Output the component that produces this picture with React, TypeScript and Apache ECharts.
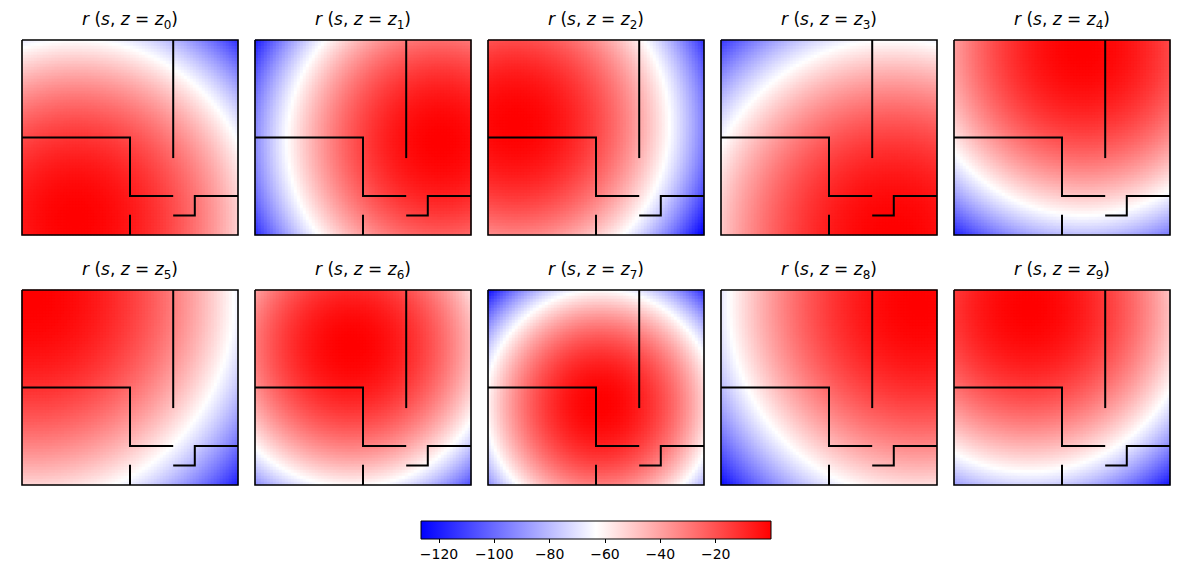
import React, { useEffect, useRef } from 'react';
import * as echarts from 'echarts';

// ---------------- data ----------------
// panel index labels: r(s, z = z_k)
const panelIds = ['0', '1', '2', '3', '4', '5', '6', '7', '8', '9'];
// transmitter position z_k in floor-plan units (x: 0..10 left→right, y: 0..9 top→bottom)
const txX = [2.5, 8.6, 1.3, 8.0, 6.0, 0.5, 4.5, 5.2, 9.2, 3.5];
const txY = [8.3, 4.7, 3.9, 9.0, 0.5, 0.5, 2.6, 5.3, 0.8, 0.9];
// distance at which each map crosses the colour-scale midpoint (white contour)
const whiteRadius = [8.3, 7.1, 7.1, 9.0, 7.6, 9.3, 6.5, 5.3, 8.8, 7.5];
// colour-scale range
const vMin = -126.5;
const vMax = 0;
const colorbarTicks = [-120, -100, -80, -60, -40, -20];
// floor-plan walls (same in every panel)
const walls = [
  [[0, 4.5], [5, 4.5], [5, 7.2], [7, 7.2]],
  [[7, 0], [7, 5.45]],
  [[7, 8.1], [8, 8.1], [8, 7.2], [10, 7.2]],
  [[5, 8.06], [5, 9]],
];
const frame = [[0, 0], [10, 0], [10, 9], [0, 9], [0, 0]];
const xMaxPlan = 10;
const yMaxPlan = 9;

// ---------------- layout ----------------
const NX = 72;
const NY = 65;
const PW = 216;
const PH = 195;
const panelLeft = [22, 255, 488, 721, 954];
const rowTop = [40, 290];

const xCats = Array.from({ length: NX }, (_, i) => String(i));
const yCats = Array.from({ length: NY }, (_, j) => String(j));

function buildMap(k: number) {
  const out: number[][] = [];
  const mid = (vMin + vMax) / 2;
  const R2 = whiteRadius[k] * whiteRadius[k];
  for (let j = 0; j < NY; j++) {
    const Y = ((j + 0.5) * yMaxPlan) / NY;
    for (let i = 0; i < NX; i++) {
      const X = ((i + 0.5) * xMaxPlan) / NX;
      const d2 = (X - txX[k]) ** 2 + (Y - txY[k]) ** 2;
      let v = (mid * d2) / R2;
      v = Math.max(vMin, Math.min(vMax, v));
      out.push([i, j, Math.round(v * 10) / 10]);
    }
  }
  return out;
}

const FONT = "'DejaVu Sans', sans-serif";

export default function App() {
  const ref = useRef<HTMLDivElement>(null);
  useEffect(() => {
    if (!ref.current) return;
    const chart = echarts.init(ref.current, undefined, { renderer: 'svg' });
    const grid: any[] = [];
    const xAxis: any[] = [];
    const yAxis: any[] = [];
    const series: any[] = [];
    const graphic: any[] = [];
    const heatIdx: number[] = [];

    panelIds.forEach((id, k) => {
      const row = k < 5 ? 0 : 1;
      const col = k % 5;
      const left = panelLeft[col];
      const top = rowTop[row];
      grid.push({ left, top, width: PW, height: PH, containLabel: false });
      xAxis.push({ type: 'category', gridIndex: k, data: xCats, show: false });
      xAxis.push({ type: 'value', gridIndex: k, min: 0, max: xMaxPlan, show: false });
      yAxis.push({ type: 'category', gridIndex: k, data: yCats, show: false, inverse: true });
      yAxis.push({ type: 'value', gridIndex: k, min: 0, max: yMaxPlan, show: false, inverse: true });
      heatIdx.push(series.length);
      series.push({
        type: 'heatmap',
        xAxisIndex: 2 * k,
        yAxisIndex: 2 * k,
        data: buildMap(k),
        progressive: 0,
        silent: true,
        emphasis: { disabled: true },
        itemStyle: { borderWidth: 0 },
      });
      series.push({
        type: 'lines',
        coordinateSystem: 'cartesian2d',
        xAxisIndex: 2 * k + 1,
        yAxisIndex: 2 * k + 1,
        polyline: true,
        silent: true,
        z: 5,
        lineStyle: { color: '#000', width: 2, opacity: 1, curveness: 0 },
        data: [
          ...walls.map((c) => ({ coords: c })),
          { coords: frame, lineStyle: { width: 1.6, color: '#000', opacity: 1 } },
        ],
      });
      graphic.push({
        type: 'text',
        x: left + PW / 2,
        y: top - 21,
        silent: true,
        style: {
          text: `{i|r}{n| (}{i|s}{n|, }{i|z}{n| = }{i|z}{s|${id}}{n|)}`,
          align: 'center',
          verticalAlign: 'middle',
          rich: {
            i: { fontFamily: FONT, fontStyle: 'italic', fontSize: 17, fill: '#000', lineHeight: 24 },
            n: { fontFamily: FONT, fontSize: 17, fill: '#000', lineHeight: 24 },
            s: { fontFamily: FONT, fontSize: 12, fill: '#000', lineHeight: 16, verticalAlign: 'bottom' },
          },
        },
      });
    });

    // colour bar
    const cbLeft = 421;
    const cbTop = 521;
    const cbW = 350;
    const cbH = 18;
    grid.push({ left: cbLeft, top: cbTop, width: cbW, height: cbH, containLabel: false });
    xAxis.push({
      type: 'value',
      gridIndex: 10,
      min: vMin,
      max: vMax,
      position: 'bottom',
      axisLine: { show: false },
      splitLine: { show: false },
      axisTick: { show: true, customValues: colorbarTicks, length: 4, lineStyle: { color: '#000', width: 1 } },
      axisLabel: {
        customValues: colorbarTicks,
        color: '#000',
        fontSize: 14,
        fontFamily: FONT,
        margin: 8,
        formatter: (v: number) => (v < 0 ? '\u2212' + Math.abs(v) : String(v)),
      },
    });
    yAxis.push({ type: 'value', gridIndex: 10, min: 0, max: 1, show: false });
    graphic.push({
      type: 'rect',
      x: cbLeft,
      y: cbTop,
      shape: { width: cbW, height: cbH },
      z: 10,
      style: {
        fill: new echarts.graphic.LinearGradient(0, 0, 1, 0, [
          { offset: 0, color: '#0000ff' },
          { offset: 0.5, color: '#ffffff' },
          { offset: 1, color: '#ff0000' },
        ]),
        stroke: '#000',
        lineWidth: 1,
      },
    });

    chart.setOption({
      animation: false,
      backgroundColor: '#fff',
      grid,
      xAxis,
      yAxis,
      visualMap: {
        type: 'continuous',
        show: false,
        min: vMin,
        max: vMax,
        dimension: 2,
        seriesIndex: heatIdx,
        inRange: { color: ['#0000ff', '#ffffff', '#ff0000'] },
      },
      series,
      graphic,
    });
    return () => chart.dispose();
  }, []);
  return (
    <div
      ref={ref}
      style={{ position: 'fixed', left: 0, top: 0, width: 1192, height: 572, background: '#fff' }}
    />
  );
}
